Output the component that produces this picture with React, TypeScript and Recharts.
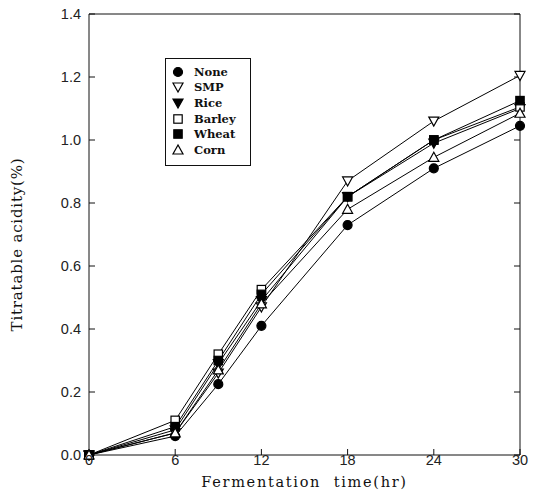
import React from "react";
import { LineChart, Line, XAxis, YAxis } from "recharts";

const times = [0, 6, 9, 12, 18, 24, 30];
const none = [0, 0.06, 0.225, 0.41, 0.73, 0.91, 1.045];
const smp = [0, 0.07, 0.26, 0.47, 0.87, 1.06, 1.205];
const rice = [0, 0.08, 0.29, 0.49, 0.82, 0.99, 1.1];
const barley = [0, 0.11, 0.32, 0.525, 0.82, 1.0, 1.105];
const wheat = [0, 0.09, 0.30, 0.51, 0.82, 1.0, 1.125];
const corn = [0, 0.07, 0.27, 0.48, 0.78, 0.945, 1.085];
const xTicks = [0, 6, 12, 18, 24, 30];
const yTicks = [0, 0.2, 0.4, 0.6, 0.8, 1.0, 1.2, 1.4];

type Shape = "circle" | "square" | "up" | "down";
const seriesList: { key: string; name: string; values: number[]; shape: Shape; filled: boolean }[] = [
  { key: "none", name: "None", values: none, shape: "circle", filled: true },
  { key: "smp", name: "SMP", values: smp, shape: "down", filled: false },
  { key: "rice", name: "Rice", values: rice, shape: "down", filled: true },
  { key: "barley", name: "Barley", values: barley, shape: "square", filled: false },
  { key: "wheat", name: "Wheat", values: wheat, shape: "square", filled: true },
  { key: "corn", name: "Corn", values: corn, shape: "up", filled: false },
];

const data = times.map((t, i) => {
  const row: Record<string, number> = { time: t };
  seriesList.forEach((s) => (row[s.key] = s.values[i]));
  return row;
});

function marker(shape: Shape, filled: boolean, cx: number, cy: number, k?: string | number) {
  const fill = filled ? "#000" : "#fff";
  const p = { fill, stroke: "#000", strokeWidth: 1.2 };
  if (shape === "circle") return <circle key={k} cx={cx} cy={cy} r={4.5} {...p} />;
  if (shape === "square") return <rect key={k} x={cx - 4.2} y={cy - 4.2} width={8.4} height={8.4} {...p} />;
  if (shape === "up")
    return <polygon key={k} points={`${cx},${cy - 5} ${cx - 5},${cy + 4} ${cx + 5},${cy + 4}`} {...p} />;
  return <polygon key={k} points={`${cx},${cy + 5} ${cx - 5},${cy - 4} ${cx + 5},${cy - 4}`} {...p} />;
}

const LegendBox = () => (
  <div
    style={{
      position: "absolute",
      left: 165,
      top: 58,
      border: "1px solid #111",
      width: 84,
      padding: "5px 0 7px 0",
      background: "#fff",
      fontFamily: "'DejaVu Serif', serif",
      fontWeight: "bold",
      fontSize: 11.5,
      color: "#111",
    }}
  >
    {seriesList.map((s) => (
      <div key={s.key} style={{ display: "flex", alignItems: "center", height: 15.6 }}>
        <svg width={28} height={14}>
          {marker(s.shape, s.filled, 12, 7)}
        </svg>
        <span>{s.name}</span>
      </div>
    ))}
  </div>
);

const tickStyle = { fontFamily: "'Liberation Sans', Arial, sans-serif", fontSize: 14.5, fill: "#222" };
const titleFont = "'DejaVu Serif', serif";
const noLabel = () => <g />;

export default function App() {
  return (
    <div style={{ position: "absolute", left: 0, top: 0, width: 543, height: 490, background: "#fff" }}>
      <LineChart width={543} height={490} data={data} margin={{ top: 13, right: 22, bottom: 0, left: 39 }}>
        <XAxis
          dataKey="time"
          type="number"
          domain={[0, 30]}
          ticks={xTicks}
          tickSize={-6}
          tickMargin={6}
          tick={tickStyle}
          stroke="#111"
          height={35}
          label={{
            value: "Fermentation\u00a0\u00a0time(hr)",
            position: "insideBottom",
            offset: 3,
            style: { fontFamily: titleFont, fontSize: 14.5, letterSpacing: 1.7, fill: "#111" },
          }}
        />
        <XAxis
          xAxisId="top"
          orientation="top"
          dataKey="time"
          type="number"
          domain={[0, 30]}
          ticks={xTicks}
          tick={false}
          tickLine={false}
          stroke="#111"
          height={1}
        />
        <YAxis
          type="number"
          domain={[0, 1.4]}
          ticks={yTicks}
          tickSize={-6}
          tickMargin={14}
          tick={tickStyle}
          tickFormatter={(v: number) => v.toFixed(1)}
          stroke="#111"
          width={50}
          label={{
            value: "Titratable acidity(%)",
            angle: -90,
            position: "insideLeft",
            offset: -22,
            dy: 10,
            style: { fontFamily: titleFont, fontSize: 15, letterSpacing: 0.8, fill: "#111", textAnchor: "middle" },
          }}
        />
        <YAxis
          yAxisId="right"
          orientation="right"
          type="number"
          domain={[0, 1.4]}
          ticks={yTicks}
          tickSize={-6}
          tick={noLabel}
          stroke="#111"
          width={1}
        />
        {seriesList.map((s, i) => (
          <Line
            key={s.key}
            dataKey={s.key}
            name={s.name}
            yAxisId={i === 0 ? "right" : 0}
            xAxisId={i === 1 ? "top" : 0}
            stroke="#000"
            strokeWidth={1}
            isAnimationActive={false}
            dot={(props: any) => marker(s.shape, s.filled, props.cx, props.cy, `${s.key}-${props.index}`)}
            activeDot={false}
          />
        ))}
      </LineChart>
      <LegendBox />
    </div>
  );
}
